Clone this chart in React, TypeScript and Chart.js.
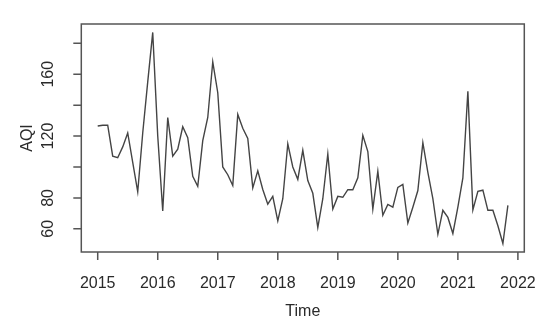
import React, { useEffect, useRef } from "react";
import { Chart, registerables } from "chart.js";

Chart.register(...registerables);

const startYear = 2015;
const aqiValues: number[] = [
  126.5, 127, 127, 107, 106, 113, 122, 103, 84, 122, 155, 187,
  120, 71.5, 132, 107, 111.5, 126, 119, 94, 87.5, 117, 132, 168,
  148, 100, 95, 88, 134, 125, 118.5, 86.5, 97.5, 85.5, 76, 81,
  65.2, 79.5, 115, 100, 92, 110.8, 91.2, 83, 60.8, 79.5, 108.4, 72.8,
  81, 80.4, 85.3, 85.3, 93, 120.5, 110, 72.8, 97.2, 68.8, 75.8, 74,
  86.8, 88.8, 63.8, 74, 84.8, 115.7, 96.5, 79.5, 56.5, 72, 67.4, 57,
  74, 93, 149, 72.3, 84.2, 85, 72, 72, 62, 50.5, 75.2,
];
const xTickYears: number[] = [2015, 2016, 2017, 2018, 2019, 2020, 2021, 2022];
const yTicks: number[] = [60, 80, 100, 120, 140, 160, 180];
const yTickLabels: number[] = [60, 80, 120, 160];
const xTitle = "Time";
const yTitle = "AQI";

export default function App() {
  const ref = useRef<HTMLCanvasElement>(null);

  useEffect(() => {
    if (!ref.current) return;
    const pts = aqiValues.map((v, i) => ({ x: startYear + i / 12, y: v }));
    const xs = pts.map((p) => p.x);
    const ys = pts.map((p) => p.y);
    const xMin = Math.min(...xs), xMax = Math.max(...xs);
    const yMin = Math.min(...ys), yMax = Math.max(...ys);
    const xr = xMax - xMin, yr = yMax - yMin;

    const font = "16px 'Liberation Sans', Arial, sans-serif";
    const axesPlugin = {
      id: "rAxes",
      afterDraw(chart: any) {
        const ctx = chart.ctx;
        const a = chart.chartArea;
        const sx = chart.scales.x;
        const sy = chart.scales.y;
        ctx.save();
        ctx.strokeStyle = "#555";
        ctx.lineWidth = 1.5;
        ctx.strokeRect(a.left, a.top, a.right - a.left, a.bottom - a.top);
        ctx.fillStyle = "#2a2a2a";
        ctx.font = font;
        ctx.textAlign = "center";
        ctx.textBaseline = "middle";
        ctx.beginPath();
        for (const yr of xTickYears) {
          const x = sx.getPixelForValue(yr);
          ctx.moveTo(x, a.bottom);
          ctx.lineTo(x, a.bottom + 8);
        }
        for (const v of yTicks) {
          const y = sy.getPixelForValue(v);
          ctx.moveTo(a.left - 8, y);
          ctx.lineTo(a.left, y);
        }
        ctx.stroke();
        for (const yr of xTickYears) {
          ctx.fillText(String(yr), sx.getPixelForValue(yr), 284);
        }
        for (const v of yTickLabels) {
          const y = sy.getPixelForValue(v);
          ctx.save();
          ctx.translate(49, y);
          ctx.rotate(-Math.PI / 2);
          ctx.fillText(String(v), 0, 0);
          ctx.restore();
        }
        ctx.fillText(xTitle, (a.left + a.right) / 2, 312);
        ctx.save();
        ctx.translate(28, (a.top + a.bottom) / 2);
        ctx.rotate(-Math.PI / 2);
        ctx.fillText(yTitle, 0, 0);
        ctx.restore();
        ctx.restore();
      },
    };

    const chart = new Chart(ref.current, {
      type: "line",
      data: {
        datasets: [
          {
            data: pts,
            borderColor: "#444",
            borderWidth: 1.4,
            pointRadius: 0,
            tension: 0,
            fill: false,
          },
        ],
      },
      options: {
        animation: false,
        responsive: false,
        maintainAspectRatio: false,
        layout: { padding: { left: 81.3, right: 25.7, top: 24, bottom: 74 } },
        plugins: { legend: { display: false }, tooltip: { enabled: false } },
        scales: {
          x: { type: "linear", display: false, min: xMin - 0.04 * xr, max: xMax + 0.04 * xr },
          y: { type: "linear", display: false, min: yMin - 0.04 * yr, max: yMax + 0.04 * yr },
        },
      },
      plugins: [axesPlugin],
    });
    return () => chart.destroy();
  }, []);

  return (
    <div style={{ position: "absolute", left: 0, top: 0, width: 550, height: 326, background: "#fff" }}>
      <canvas ref={ref} width={550} height={326} style={{ display: "block" }} />
    </div>
  );
}
